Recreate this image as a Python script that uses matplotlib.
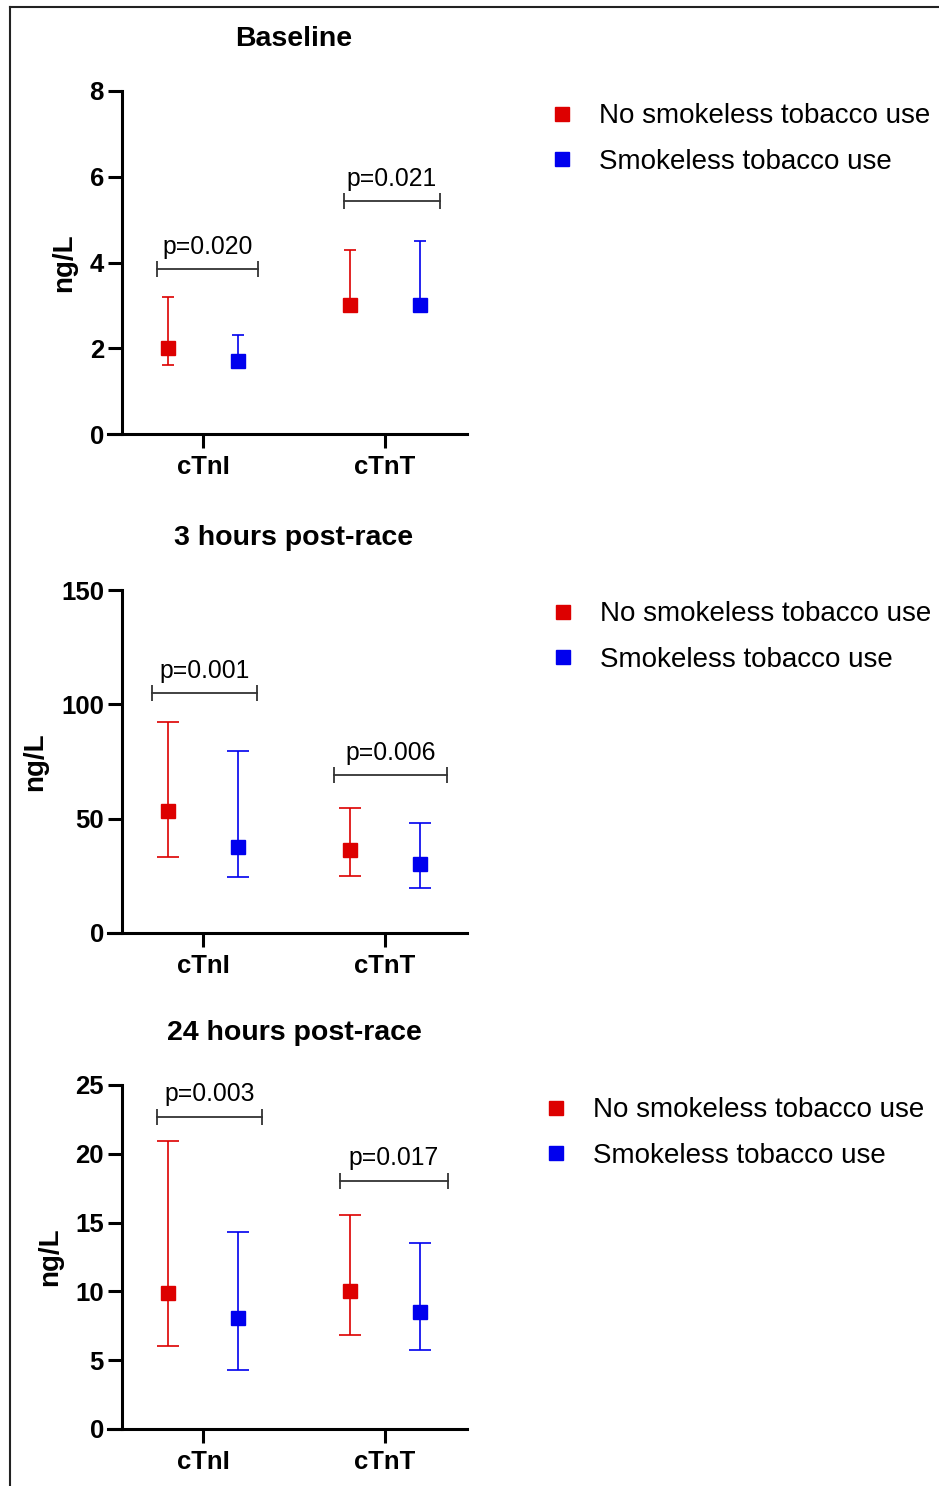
import matplotlib
matplotlib.use('Agg')
import matplotlib.pyplot as plt
from matplotlib.lines import Line2D

plt.rcParams['font.family'] = ['Liberation Sans', 'DejaVu Sans']

# data
markers = ['cTnI', 'cTnT']
groups = ['No smokeless tobacco use', 'Smokeless tobacco use']
titles = ['Baseline', '3 hours post-race', '24 hours post-race']

# [panel][marker][group]
med = [
    [[2.0, 1.7], [3.0, 3.0]],
    [[53.3, 37.7], [36.3, 30.2]],
    [[9.9, 8.05], [10.05, 8.5]],
]
low = [
    [[1.6, 1.6], [2.9, 2.9]],
    [[33.4, 24.6], [24.9, 19.5]],
    [[6.05, 4.3], [6.85, 5.75]],
]
high = [
    [[3.2, 2.3], [4.3, 4.5]],
    [[92.3, 79.7], [54.5, 48.2]],
    [[20.9, 14.35], [15.55, 13.55]],
]
p_text = [['p=0.020', 'p=0.021'], ['p=0.001', 'p=0.006'], ['p=0.003', 'p=0.017']]
p_height = [[3.85, 5.43], [104.8, 69.1], [22.7, 18.05]]
ymax = [8, 150, 25]
ystep = [2, 50, 5]

colors = ['#DD0000', '#0000EE']
W, H = 939, 1486

fig = plt.figure(figsize=(W / 100, H / 100), dpi=100)

# layout in pixels
ax_top = [91, 590, 1085]
ax_bot = [434, 933, 1429]
leg_x = [548, 549, 542]
leg_y = [139, 637, 1133]
br_span = [
    [(-0.253, 0.302), (-0.225, 0.302)],
    [(-0.282, 0.295), (-0.28, 0.342)],
    [(-0.254, 0.323), (-0.249, 0.346)],
]
caps = [4.3, 8, 8]
off = 0.192

for k in range(3):
    ax = fig.add_axes([108 / W, 1 - ax_bot[k] / H, 359 / W, (ax_bot[k] - ax_top[k]) / H])
    for g in range(2):
        xs = [i + (2 * g - 1) * off for i in range(2)]
        m = [med[k][i][g] for i in range(2)]
        lo = [med[k][i][g] - low[k][i][g] for i in range(2)]
        hi = [high[k][i][g] - med[k][i][g] for i in range(2)]
        ax.errorbar(xs, m, yerr=[lo, hi], fmt='s', color=colors[g], ecolor=colors[g],
                    markersize=10, elinewidth=1.2, capsize=caps[k], capthick=1.2,
                    label=groups[g], zorder=3)
    for i in range(2):
        x1, x2 = i + br_span[k][i][0], i + br_span[k][i][1]
        y = p_height[k][i]
        ax.plot([x1, x2], [y, y], color='#333333', lw=1.3, marker='|',
                markersize=11, markeredgewidth=1.3, clip_on=False)
        ax.annotate(p_text[k][i], ((x1 + x2) / 2, y), xytext=(0, 16),
                    textcoords='offset points', ha='center', va='center', fontsize=17.8)

    ax.set_xlim(-0.522, 1.451)
    ax.set_ylim(0, ymax[k])
    ax.set_yticks(range(0, ymax[k] + 1, ystep[k]))
    ax.set_xticks([0, 1])
    ax.set_xticklabels(markers)
    ax.spines['left'].set_position(('data', -0.445))
    ax.spines['top'].set_visible(False)
    ax.spines['right'].set_visible(False)
    for s in ['left', 'bottom']:
        ax.spines[s].set_linewidth(2.2)
    ax.tick_params(width=2.2, length=10, labelsize=18.5)
    ax.tick_params(axis='y', pad=3)
    ax.tick_params(axis='x', pad=5)
    for t in ax.get_xticklabels() + ax.get_yticklabels():
        t.set_fontweight('bold')
    ax.set_ylabel('ng/L', fontsize=20, fontweight='bold', labelpad=9)
    ax.text(0.518, 1.152, titles[k], transform=ax.transAxes, ha='center', va='center',
            fontsize=20.5, fontweight='bold')

    handles = [Line2D([], [], marker='s', ls='none', color=c, markersize=10) for c in colors]
    ax.legend(handles, groups, loc='center left',
              bbox_to_anchor=(leg_x[k] / W, 1 - leg_y[k] / H), bbox_transform=fig.transFigure,
              frameon=False, fontsize=20, handlelength=1.0, handletextpad=0.85,
              labelspacing=0.7, borderpad=0, borderaxespad=0)

# outer frame
fig.add_artist(Line2D([10 / W, 10 / W], [1 - 7 / H, 0], transform=fig.transFigure,
                      color='#222222', lw=1.5))
fig.add_artist(Line2D([10 / W, 1], [1 - 7 / H, 1 - 7 / H], transform=fig.transFigure,
                      color='#222222', lw=1.5))

fig.savefig('out.png', dpi=100)
